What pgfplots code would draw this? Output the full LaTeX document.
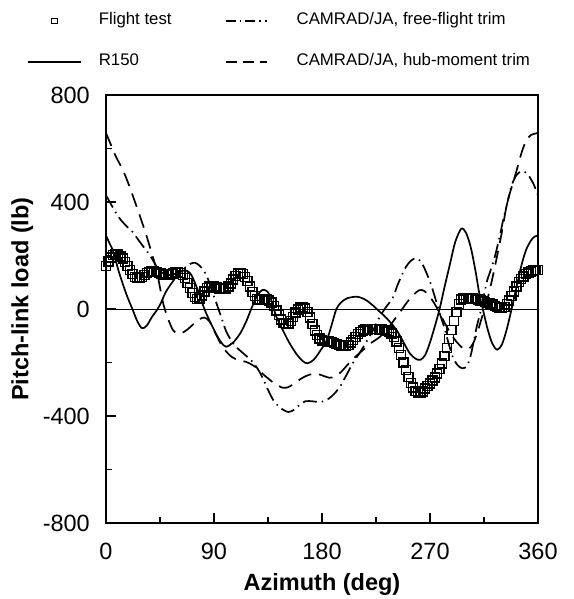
\documentclass[border=0pt]{standalone}
\usepackage{fontspec}
\setmainfont{Liberation Sans}
\usepackage{pgfplots}
\pgfplotsset{compat=1.18}
\pgfplotsset{
  legsq/.style={legend image code/.code={\path[draw=none] (0pt,0pt) -- (71pt,0pt);
    \draw[mark repeat=2, mark phase=2, ##1] plot coordinates {(0pt,0pt) (26.5pt,0pt) (53pt,0pt)};}},
  legone/.style={legend image code/.code={\path[draw=none] (0pt,0pt) -- (71pt,0pt);
    \draw[##1] (0pt,0pt) -- (53pt,0pt);}},
  legtwo/.style={legend image code/.code={\path[draw=none] (0pt,0pt) -- (125pt,0pt);
    \draw[##1] (54pt,0pt) -- (95pt,0pt);}},
}

\pgfplotstableread{
az load
0 160
2 178
4 192
6 202
8 205
10 203
12 197
14 188
16 176
18 160
20 145
22 130
24 120
26 115
28 116
30 120
32 128
34 134
36 138
38 140
40 140
42 138
44 135
46 132
48 129
50 128
52 128
54 130
56 133
58 136
60 137
62 135
64 128
66 115
68 98
70 78
72 60
74 45
76 38
78 40
80 50
82 65
84 78
86 85
88 86
90 84
92 80
94 76
96 74
98 74
100 77
102 84
104 95
106 110
108 124
110 132
112 134
114 130
116 120
118 104
120 84
122 64
124 48
126 38
128 34
130 34
132 36
134 36
136 32
138 24
140 12
142 -5
144 -22
146 -40
148 -52
150 -57
152 -55
154 -45
156 -30
158 -14
160 -2
162 6
164 8
166 2
168 -12
170 -32
172 -56
174 -80
176 -98
178 -110
180 -117
182 -120
184 -121
186 -122
188 -124
190 -127
192 -130
194 -134
196 -137
198 -139
200 -138
202 -134
204 -126
206 -115
208 -104
210 -94
212 -86
214 -80
216 -77
218 -76
220 -75
222 -74
224 -74
226 -75
228 -76
230 -77
232 -78
234 -80
236 -84
238 -92
240 -104
242 -122
244 -145
246 -172
248 -200
250 -228
252 -254
254 -276
256 -294
258 -306
260 -312
262 -313
264 -308
266 -298
268 -288
270 -278
272 -268
274 -256
276 -242
278 -225
280 -203
282 -175
284 -145
286 -112
288 -78
290 -45
292 -12
294 18
296 35
298 40
300 42
302 42
304 41
306 40
308 38
310 35
312 32
314 29
316 26
318 23
320 20
322 16
324 12
326 8
328 5
330 4
332 8
334 18
336 32
338 48
340 66
342 84
344 100
346 112
348 122
350 130
352 136
354 140
356 143
358 145
360 146
}\flighttest

\begin{document}
\begin{tikzpicture}
\begin{axis}[
  at={(0,0)}, anchor=south west,
  scale only axis, width=432pt, height=428pt,
  xmin=0, xmax=360, ymin=-800, ymax=800,
  xtick={0,90,180,270,360}, xticklabels={0,90,180,270,360},
  ytick={-800,-400,0,400,800}, yticklabels={-800,-400,0,400,800},
  minor x tick num=1, minor y tick num=1,
  tick align=inside, xtick pos=bottom, ytick pos=left,
  major tick length=10pt, minor tick length=6pt,
  axis line style={line width=1.4pt},
  every tick/.style={line width=1.1pt, black},
  tick label style={font=\fontsize{23.5}{28}\selectfont, inner sep=0pt},
  xticklabel style={anchor=north, yshift=-20pt},
  yticklabel style={anchor=east, xshift=-16pt},
  xlabel={Azimuth (deg)}, ylabel={Pitch-link load (lb)},
  label style={font=\fontsize{23.5}{28}\selectfont\bfseries},
  xlabel style={at={(axis description cs:0.5,0)}, anchor=base, yshift=-67pt},
  ylabel style={at={(axis description cs:-0.194,0.523)}, anchor=center},
  legend columns=2,
  legend cell align=left,
  legend style={draw=none, fill=none, inner sep=0pt, outer sep=0pt,
    column sep=0pt, row sep=25pt,
    at={(axis description cs:0,1)}, anchor=north west, xshift=-79pt, yshift=82pt,
    font=\fontsize{16.8}{19}\selectfont,
    nodes={inner sep=0pt, text height=12pt, text depth=4pt}},
]
% legend entries (order: row 1 then row 2)
\addlegendimage{only marks, mark=square, mark size=2.8pt, line width=0.9pt, black, legsq}
\addlegendentry{Flight test}
\addlegendimage{black, line width=1.6pt, dash pattern=on 10pt off 4pt on 1.5pt off 4pt, legtwo}
\addlegendentry{CAMRAD/JA, free-flight trim}
\addlegendimage{black, line width=1.6pt, legone}
\addlegendentry{R150}
\addlegendimage{black, line width=1.6pt, dash pattern=on 11pt off 6pt, legtwo}
\addlegendentry{CAMRAD/JA, hub-moment trim}

% zero line
\addplot[black, line width=0.7pt, forget plot] coordinates {(0,0) (360,0)};

% R150
\addplot[black, line width=1.7pt, smooth, tension=0.5, forget plot] coordinates {
(0,275) (3,245) (6,215) (11,135) (17,55) (22,0) (26,-45) (30,-72) (34,-62) (38,-32)
(43,0) (46,25) (50,65) (56,105) (61,135) (66,145) (71,128) (77,65) (82,0) (87,-50)
(92,-95) (96,-125) (100,-141) (106,-125) (112,-90) (117,-45) (121,0) (126,50) (131,72)
(136,55) (142,-29) (148,-85) (153,-128) (159,-170) (164,-195) (168,-203) (173,-190)
(178,-160) (184,-116) (188,-60) (192,0) (196,25) (201,40) (209,46) (216,35) (222,15)
(228,-10) (234,-35) (242,-78) (248,-125) (253,-165) (258,-186) (262,-190) (266,-172)
(270,-125) (274,-65) (278,0) (282,80) (287,175) (291,250) (296,300) (300,285) (304,230)
(308,140) (311,60) (314,0) (318,-75) (322,-130) (326,-152) (330,-132) (334,-75) (338,0)
(342,80) (346,160) (350,220) (354,255) (357,270) (360,275)};

% CAMRAD/JA hub-moment trim (dashed)
\addplot[black, line width=1.7pt, dash pattern=on 14pt off 8pt, smooth, tension=0.5, forget plot] coordinates {
(0,658) (4,615) (8,572) (14,520) (19,465) (23,415) (28,351) (34,270) (39,195) (42,150)
(45,80) (48,15) (52,-40) (56,-80) (60,-92) (64,-88) (68,-76) (73,-56) (78,-38) (82,-32)
(86,-45) (90,-80) (95,-125) (100,-158) (105,-180) (111,-192) (117,-198) (124,-215)
(132,-248) (140,-277) (147,-294) (152,-292) (157,-278) (162,-262) (167,-250) (174,-241)
(180,-248) (186,-257) (191,-252) (196,-235) (201,-210) (207,-182) (213,-158) (220,-130)
(228,-105) (235,-72) (240,-42) (245,-12) (251,26) (256,52) (261,70) (265,68) (270,45)
(274,18) (278,-15) (282,-50) (287,-90) (292,-122) (297,-145) (302,-150) (306,-128)
(310,-80) (314,-20) (318,40) (322,115) (326,200) (330,290) (334,390) (338,455) (342,515)
(346,580) (350,628) (354,650) (360,658)};

% CAMRAD/JA free-flight trim (dash-dot)
\addplot[black, line width=1.7pt, dash pattern=on 14pt off 5pt on 1.5pt off 5pt, smooth, tension=0.5, forget plot] coordinates {
(0,425) (4,393) (8,362) (12,335) (17,310) (22,289) (28,252) (33,222) (37,198) (42,160)
(46,138) (50,128) (55,128) (60,136) (65,152) (70,168) (74,173) (78,162) (82,140) (85,112)
(88,72) (92,22) (96,-30) (100,-82) (104,-115) (108,-140) (116,-172) (122,-197) (127,-228)
(131,-262) (135,-302) (140,-345) (146,-372) (152,-385) (157,-376) (161,-360) (166,-345)
(172,-345) (178,-348) (184,-340) (190,-318) (195,-290) (200,-250) (206,-200) (212,-160)
(218,-115) (223,-75) (228,-30) (233,5) (239,42) (243,90) (249,150) (254,180) (259,190)
(264,165) (270,102) (274,46) (278,-15) (282,-70) (285,-120) (289,-180) (293,-210)
(297,-222) (301,-212) (304,-172) (306,-130) (309,-65) (313,7) (317,96) (320,138) (324,195)
(328,270) (331,333) (335,407) (338,462) (342,500) (346,515) (349,512) (352,500) (356,470)
(360,425)};

% Flight test (squares)
\addplot[black, only marks, mark=square, mark size=4.5pt, line width=1.5pt, forget plot] table[x=az, y=load] {\flighttest};
\end{axis}
\path (-106pt,-76pt) rectangle (467pt,523pt);
\end{tikzpicture}
\end{document}
